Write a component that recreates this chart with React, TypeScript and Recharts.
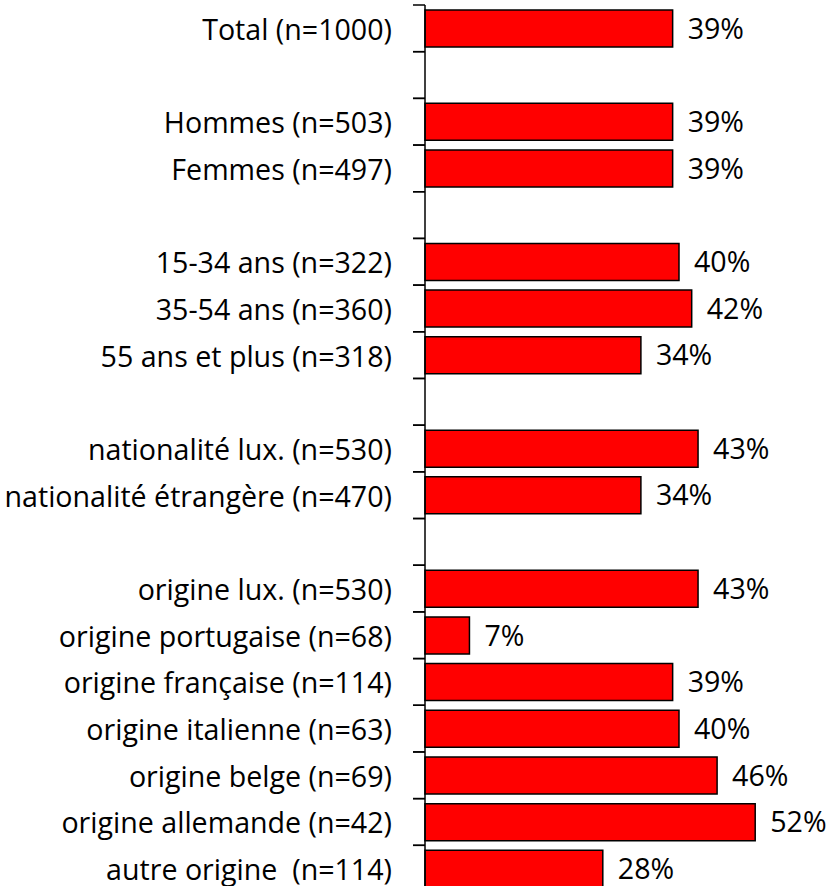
import React from "react";
import { BarChart, Bar, XAxis, YAxis, LabelList } from "recharts";

// "_n" entries are empty spacer rows between the groups
const categories = [
  "Total (n=1000)",
  "_1",
  "Hommes (n=503)",
  "Femmes (n=497)",
  "_2",
  "15-34 ans (n=322)",
  "35-54 ans (n=360)",
  "55 ans et plus (n=318)",
  "_3",
  "nationalité lux. (n=530)",
  "nationalité étrangère (n=470)",
  "_4",
  "origine lux. (n=530)",
  "origine portugaise (n=68)",
  "origine française (n=114)",
  "origine italienne (n=63)",
  "origine belge (n=69)",
  "origine allemande (n=42)",
  "autre origine  (n=114)",
];

const shares: (number | null)[] = [
  39, null, 39, 39, null, 40, 42, 34, null, 43, 34, null, 43, 7, 39, 40, 46, 52, 28,
];

const data = categories.map((name, i) => ({ name, value: shares[i] }));

const WIDTH = 833;
const HEIGHT = 892;
const TOP = 5;
const AXIS_W = 425;
const FONT = "'Open Sans', 'Noto Sans', sans-serif";
const FONT_SIZE = 28.6;
const BAND = (HEIGHT - TOP) / categories.length;

function CategoryTick(props: any) {
  const { x, y, payload } = props;
  const label: string = payload.value;
  return (
    <g>
      <line x1={AXIS_W - 12} x2={AXIS_W} y1={y - BAND / 2} y2={y - BAND / 2} stroke="#000" strokeWidth={1.5} />
      <line x1={AXIS_W - 12} x2={AXIS_W} y1={y + BAND / 2} y2={y + BAND / 2} stroke="#000" strokeWidth={1.5} />
      {!label.startsWith("_") && (
        <text
          x={x - 25}
          y={y}
          textAnchor="end"
          dominantBaseline="central"
          fontSize={FONT_SIZE}
          fontFamily={FONT}
          fill="#000"
          style={{ whiteSpace: "pre" }}
        >
          {label}
        </text>
      )}
    </g>
  );
}

export default function App() {
  return (
    <div style={{ position: "absolute", left: 0, top: 0, width: WIDTH, height: 886, overflow: "hidden", background: "#fff" }}>
      <BarChart
        width={WIDTH}
        height={HEIGHT}
        data={data}
        layout="vertical"
        margin={{ top: TOP, right: 27, bottom: 0, left: 0 }}
      >
        <XAxis type="number" domain={[0, 60]} hide />
        <YAxis
          type="category"
          dataKey="name"
          width={AXIS_W}
          axisLine={{ stroke: "#000", strokeWidth: 1.5 }}
          tickLine={false}
          tick={<CategoryTick />}
          interval={0}
        />
        <Bar dataKey="value" fill="#FF0000" stroke="#000" strokeWidth={1.5} barSize={37} isAnimationActive={false}>
          <LabelList
            dataKey="value"
            position="right"
            offset={15}
            formatter={(v: any) => (v == null ? "" : `${v}%`)}
            style={{ fontSize: FONT_SIZE, fontFamily: FONT, fill: "#000" }}
          />
        </Bar>
      </BarChart>
    </div>
  );
}
